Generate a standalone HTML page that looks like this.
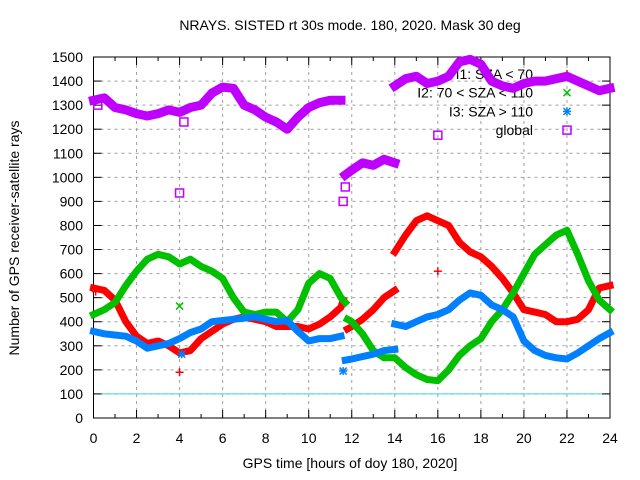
<!DOCTYPE html>
<html><head><meta charset="utf-8"><style>
body{margin:0;background:#fff}
svg{display:block;font-family:"Liberation Sans",sans-serif}
</style></head><body>
<svg id="chart" width="640" height="480" viewBox="0 0 640 480">
<rect width="640" height="480" fill="#fff"/>
<g id="grid"></g>
<g id="axes"></g>
<g id="legend"></g>
<g id="series"></g>
<text x="350" y="30" text-anchor="middle" font-size="14">NRAYS. SISTED rt 30s mode. 180, 2020. Mask 30 deg</text>
<text x="350" y="468" text-anchor="middle" font-size="14">GPS time [hours of doy 180, 2020]</text>
<text transform="translate(19,238) rotate(-90)" text-anchor="middle" font-size="14">Number of GPS receiver-satellite rays</text>
</svg>
<script>
const xTicks=[0,2,4,6,8,10,12,14,16,18,20,22,24];
const yTicks=[0,100,200,300,400,500,600,700,800,900,1000,1100,1200,1300,1400,1500];
const i1X=[0,0.5,1,1.5,2,2.5,3,3.5,4,4.5,5,5.5,6,6.5,7,7.5,8,8.5,9,9.5,10,10.5,11,11.5,11.6,11.6,11.8,12,12.5,13,13.5,14,14,14,14.5,15,15.5,16,16.5,17,17.5,18,18.5,19,19.5,20,20.5,21,21.5,22,22.5,23,23.5,24];
const i1Y=[540,530,490,400,340,310,320,300,270,280,330,360,390,410,420,410,400,380,380,380,370,390,420,460,490,null,370,380,410,450,500,530,null,690,760,820,840,820,800,730,690,670,630,580,520,450,440,430,400,400,410,450,540,550];
const i2X=[0,0.5,1,1.5,2,2.5,3,3.5,4,4.5,5,5.5,6,6.5,7,7.5,8,8.5,9,9.5,10,10.5,11,11.5,11.7,11.7,11.8,12,12.5,13,13.5,14,14.5,15,15.5,16,16.5,17,17.5,18,18.5,19,19.5,20,20.5,21,21.5,22,22.5,23,23.5,24];
const i2Y=[430,450,480,550,610,660,680,670,640,660,630,610,580,500,440,430,440,440,400,450,560,600,580,500,480,null,410,400,350,280,250,250,210,180,160,155,200,260,300,330,400,450,520,600,680,720,760,780,680,570,490,450];
const i3X=[0,0.5,1,1.5,2,2.5,3,3.5,4,4.5,5,5.5,6,6.5,7,7.5,8,8.5,9,9.5,10,10.5,11,11.5,11.5,11.7,12,12.5,13,13.5,14,14,14,14.5,15,15.5,16,16.5,17,17.5,18,18.5,19,19.5,20,20.5,21,21.5,22,22.5,23,23.5,24];
const i3Y=[360,350,345,340,320,290,300,310,330,355,370,400,405,410,415,420,410,400,405,360,320,330,330,340,null,240,245,255,265,280,285,null,390,380,400,420,430,450,490,520,510,470,450,420,320,280,260,250,245,270,300,330,355];
const glX=[0,0.5,1,1.5,2,2.5,3,3.5,4,4.5,5,5.5,6,6.5,7,7.5,8,8.5,9,9.5,10,10.5,11,11.5,11.5,11.7,12,12.5,13,13.5,14,14,14,14.5,15,15.5,16,16.5,17,17.5,18,18.5,19,19.5,20,20.5,21,21.5,22,22.5,23,23.5,24];
const glY=[1320,1330,1290,1280,1265,1255,1265,1280,1270,1290,1300,1350,1375,1370,1300,1280,1250,1230,1200,1250,1290,1310,1320,1320,null,1010,1030,1060,1050,1075,1060,null,1380,1410,1420,1390,1400,1420,1480,1490,1470,1400,1380,1370,1390,1400,1400,1410,1420,1400,1380,1360,1370];
const i1OutX=[4,16,0.1];const i1OutY=[190,610,525];
const i2OutX=[4];const i2OutY=[465];
const i3OutX=[11.6,4.1];const i3OutY=[195,265];
const glOutX=[4,16,11.6,11.7,0.2,4.2];const glOutY=[935,1175,900,960,1300,1230];

const NS="http://www.w3.org/2000/svg";
const X0=93.5,X1=610,Y0=418,Y1=57;
const sx=h=>X0+(X1-X0)*h/24;
const sy=v=>Y0-(Y0-Y1)*v/1500;
function mk(tag,attrs,parent){const e=document.createElementNS(NS,tag);for(const k in attrs)e.setAttribute(k,attrs[k]);parent.appendChild(e);return e;}
const grid=document.getElementById('grid'),axes=document.getElementById('axes'),legend=document.getElementById('legend'),series=document.getElementById('series');
xTicks.forEach(t=>{
  if(t>0&&t<24){const l=mk('line',{x1:sx(t),x2:sx(t),y1:Y0,y2:Y1,stroke:'#a0a0a0','stroke-dasharray':'3,4'},grid);
  
  }
  const tx=mk('text',{x:sx(t),y:443,'text-anchor':'middle','font-size':14},axes);tx.textContent=t;
  
  
});
for(let h=0;h<=24;h++){mk('line',{x1:sx(h),x2:sx(h),y1:Y0,y2:Y0-(h%2?4:8),stroke:'#000'},axes);mk('line',{x1:sx(h),x2:sx(h),y1:Y1,y2:Y1+(h%2?4:8),stroke:'#000'},axes);}
yTicks.forEach(t=>{
  if(t>0&&t<1500){const l=mk('line',{x1:X0,x2:X1,y1:sy(t),y2:sy(t),stroke:'#a0a0a0','stroke-dasharray':'3,4'},grid);
  
  }
  mk('line',{x1:X0,x2:X0+8,y1:sy(t),y2:sy(t),stroke:'#000'},axes);
  mk('line',{x1:X1,x2:X1-8,y1:sy(t),y2:sy(t),stroke:'#000'},axes);
  const tx=mk('text',{x:83,y:sy(t)+5,'text-anchor':'end','font-size':14},axes);tx.textContent=t;
  
  
});
const ref=mk('line',{x1:X0,x2:X1,y1:sy(100),y2:sy(100),stroke:'#40d8d8'},grid);


const fr=mk('rect',{x:X0,y:Y1,width:X1-X0,height:Y0-Y1,fill:'none',stroke:'#000'},axes);



const S=[
 {n:'I1: SZA < 70',c:'#ff0000',x:i1X,y:i1Y,ox:i1OutX,oy:i1OutY,m:'+',name:'series-i1'},
 {n:'I2: 70 < SZA < 110',c:'#00c000',x:i2X,y:i2Y,ox:i2OutX,oy:i2OutY,m:'x',name:'series-i2'},
 {n:'I3: SZA > 110',c:'#0080ff',x:i3X,y:i3Y,ox:i3OutX,oy:i3OutY,m:'*',name:'series-i3'},
 {n:'global',c:'#c000ff',x:glX,y:glY,ox:glOutX,oy:glOutY,m:'s',name:'series-global'}
];
function marker(m,cx,cy,c,p){
  if(m==='s'){return mk('rect',{x:cx-4,y:cy-4,width:8,height:8,fill:'none',stroke:c,'stroke-width':1.5},p);}
  const g=mk('g',{stroke:c,'stroke-width':1.5},p);
  if(m==='+'||m==='*'){mk('line',{x1:cx-4,x2:cx+4,y1:cy,y2:cy},g);mk('line',{x1:cx,x2:cx,y1:cy-4,y2:cy+4},g);}
  if(m==='x'||m==='*'){mk('line',{x1:cx-3.5,x2:cx+3.5,y1:cy-3.5,y2:cy+3.5},g);mk('line',{x1:cx-3.5,x2:cx+3.5,y1:cy+3.5,y2:cy-3.5},g);}
  return g;
}
S.forEach((s,i)=>{
  const ly=74+i*18.7;
  const t=mk('text',{x:533,y:ly+5,'text-anchor':'end','font-size':14},legend);t.textContent=s.n;
  
  
  const lm=marker(s.m,567,ly,s.c,legend);
  
  
});
S.forEach(s=>{
  const g=mk('g',{},series);
  
  
  let seg=[];
  const flush=()=>{if(seg.length){const pl=mk('polyline',{points:seg.join(' '),fill:'none',stroke:s.c,'stroke-width':s.m==='s'?9:7,'stroke-linejoin':'round','stroke-linecap':'square'},g);
    
    }seg=[];};
  for(let k=0;k<s.x.length;k++){if(s.y[k]===null){flush();continue;}seg.push(sx(s.x[k]).toFixed(1)+','+sy(s.y[k]).toFixed(1));}
  flush();
  s.ox.forEach((h,k)=>{const m=marker(s.m,sx(h),sy(s.oy[k]),s.c,g);
    
    });
});
</script>
</body></html>
